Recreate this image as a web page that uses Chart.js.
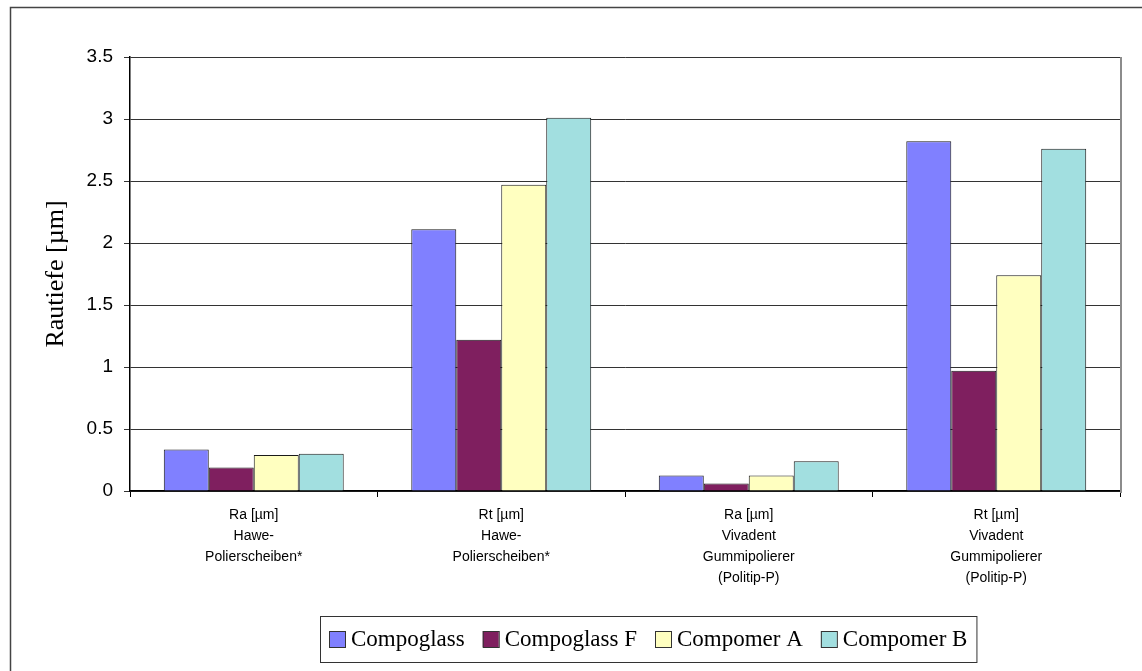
<!DOCTYPE html>
<html>
<head>
<meta charset="utf-8">
<script src="https://cdn.jsdelivr.net/npm/chart.js@4/dist/chart.umd.min.js"></script>
<style>
    html, body { margin: 0; padding: 0; background: #fff; }
    #wrap { width: 1142px; height: 671px; }
</style>
</head>
<body>
<div id="wrap"><canvas id="roughnessChart" width="1142" height="671"></canvas></div>
<script>
// Kategorien (mehrzeilige Achsenbeschriftung)
const categories = [
    ['Ra [µm]', 'Hawe-', 'Polierscheiben*'],
    ['Rt [µm]', 'Hawe-', 'Polierscheiben*'],
    ['Ra [µm]', 'Vivadent', 'Gummipolierer', '(Politip-P)'],
    ['Rt [µm]', 'Vivadent', 'Gummipolierer', '(Politip-P)'],
];

// Werte je Material
const compoglass = [0.335, 2.11, 0.125, 2.82];
const compoglassF = [0.19, 1.22, 0.06, 0.97];
const compomerA = [0.29, 2.47, 0.125, 1.74];
const compomerB = [0.30, 3.01, 0.24, 2.76];

const yTicks = [0, 0.5, 1, 1.5, 2, 2.5, 3, 3.5];

const SERIES_COLORS = Object.freeze({
    compoglass: '#8080ff',
    compoglassF: '#7f1f5f',
    compomerA: '#ffffc0',
    compomerB: '#a2dfe0',
});

const PLOT_BOTTOM = 491;

function makeDataset(label, data, color) {
    return {
        label: label,
        data: data,
        backgroundColor: color,
        borderColor: '#1a1a1a',
        borderWidth: 1,
        borderSkipped: 'bottom',
        barPercentage: 1,
        categoryPercentage: 0.727,
    };
}

// Rahmen um das Diagramm und rechter Rand der Zeichenfläche
const framePlugin = {
    id: 'frame',
    afterDraw(chart) {
        const ctx = chart.ctx;
        const area = chart.chartArea;
        ctx.save();
        ctx.strokeStyle = '#444444';
        ctx.lineWidth = 1.5;
        ctx.strokeRect(10.5, 7.5, 1200, 800);
        ctx.strokeStyle = '#8c8c8c';
        ctx.lineWidth = 2;
        ctx.beginPath();
        ctx.moveTo(area.right + 1, area.top);
        ctx.lineTo(area.right + 1, area.bottom + 2);
        ctx.stroke();
        ctx.restore();
    },
};

// Legende mit Kasten, wie im Original
const boxLegendPlugin = {
    id: 'boxLegend',
    afterDraw(chart) {
        const ctx = chart.ctx;
        const datasets = chart.data.datasets;
        const font = '23px "Liberation Serif", "Times New Roman", serif';
        const swatch = 16;
        const pad = 9;
        const gapAfterSwatch = 6;
        const gapBetween = 18;
        ctx.save();
        ctx.font = font;
        let total = pad * 2;
        datasets.forEach((ds, i) => {
            total += swatch + gapAfterSwatch + ctx.measureText(ds.label).width;
            if (i < datasets.length - 1) {
                total += gapBetween;
            }
        });
        const left = 320;
        const top = 616;
        const height = 46;
        ctx.fillStyle = '#ffffff';
        ctx.fillRect(left, top, total, height);
        ctx.strokeStyle = '#333333';
        ctx.lineWidth = 1;
        ctx.strokeRect(left + 0.5, top + 0.5, total, height);

        let x = left + pad;
        const midY = top + height / 2;
        ctx.textBaseline = 'middle';
        datasets.forEach((ds) => {
            ctx.fillStyle = ds.backgroundColor;
            ctx.fillRect(x, midY - swatch / 2, swatch, swatch);
            ctx.strokeStyle = '#333333';
            ctx.strokeRect(x + 0.5, midY - swatch / 2 + 0.5, swatch, swatch);
            x += swatch + gapAfterSwatch;
            ctx.fillStyle = '#000000';
            ctx.fillText(ds.label, x, midY + 1);
            x += ctx.measureText(ds.label).width + gapBetween;
        });
        ctx.restore();
    },
};

const ctx = document.getElementById('roughnessChart').getContext('2d');

new Chart(ctx, {
    type: 'bar',
    data: {
        labels: categories,
        datasets: [
            makeDataset('Compoglass', compoglass, SERIES_COLORS.compoglass),
            makeDataset('Compoglass F', compoglassF, SERIES_COLORS.compoglassF),
            makeDataset('Compomer A', compomerA, SERIES_COLORS.compomerA),
            makeDataset('Compomer B', compomerB, SERIES_COLORS.compomerB),
        ],
    },
    options: {
        responsive: false,
        animation: false,
        devicePixelRatio: 1,
        layout: {
            padding: {left: 10, top: 57, right: 22, bottom: 0},
        },
        plugins: {
            legend: {display: false},
            tooltip: {enabled: false},
        },
        scales: {
            x: {
                offset: true,
                grid: {
                    display: true,
                    offset: true,
                    drawOnChartArea: false,
                    drawTicks: true,
                    tickLength: 6,
                    color: '#000000',
                },
                border: {display: true, color: '#000000', width: 1.5},
                ticks: {
                    color: '#000000',
                    padding: 8,
                    maxRotation: 0,
                    autoSkip: false,
                    font: {family: '"Liberation Sans", Arial, sans-serif', size: 14, lineHeight: 1.5},
                },
                afterFit(scale) {
                    scale.height = 671 - PLOT_BOTTOM;
                },
            },
            y: {
                min: 0,
                max: 3.5,
                afterBuildTicks(scale) {
                    scale.ticks = yTicks.map((v) => ({value: v}));
                },
                grid: {
                    color: '#333333',
                    lineWidth: 1,
                    drawTicks: true,
                    tickLength: 6,
                },
                border: {display: true, color: '#000000', width: 1.5},
                ticks: {
                    color: '#000000',
                    padding: 11,
                    font: {family: '"Liberation Sans", Arial, sans-serif', size: 19},
                    callback: (value) => String(value),
                },
                title: {
                    display: true,
                    text: 'Rautiefe [µm]',
                    color: '#000000',
                    font: {family: '"Liberation Serif", "Times New Roman", serif', size: 26, lineHeight: 1.2},
                    padding: {top: 31, bottom: 0},
                },
                afterFit(scale) {
                    scale.width = 120;
                },
            },
        },
    },
    plugins: [framePlugin, boxLegendPlugin],
});
</script>
</body>
</html>
